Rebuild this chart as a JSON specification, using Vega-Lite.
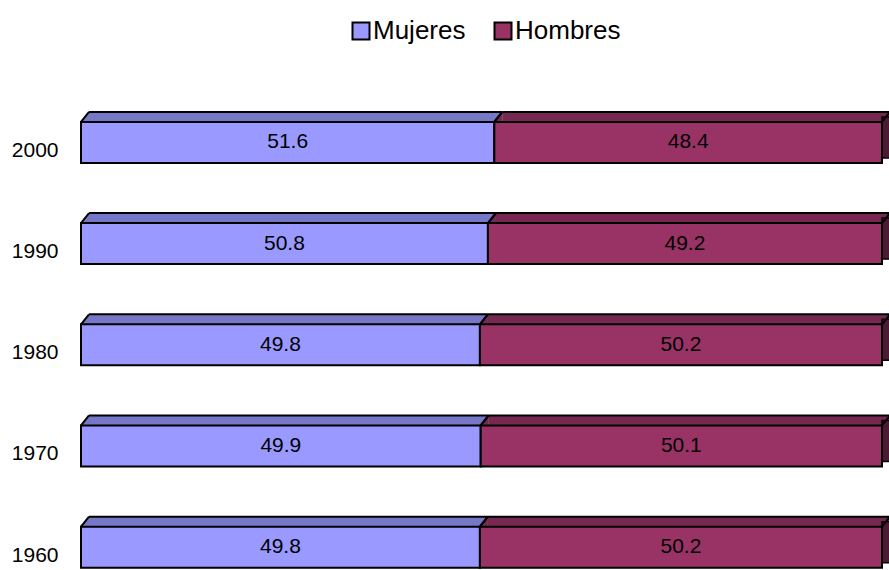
{
  "$schema": "https://vega.github.io/schema/vega-lite/v6.json",
  "width": 808,
  "height": 570,
  "autosize": "none",
  "padding": {"left": 81, "top": 0, "right": 0, "bottom": 0},
  "background": "white",
  "config": {"view": {"stroke": null}, "font": "Liberation Sans"},
  "data": {"values": [
    {"year": 2000, "gender": "Mujeres", "value": 51.6},
    {"year": 2000, "gender": "Hombres", "value": 48.4},
    {"year": 1990, "gender": "Mujeres", "value": 50.8},
    {"year": 1990, "gender": "Hombres", "value": 49.2},
    {"year": 1980, "gender": "Mujeres", "value": 49.8},
    {"year": 1980, "gender": "Hombres", "value": 50.2},
    {"year": 1970, "gender": "Mujeres", "value": 49.9},
    {"year": 1970, "gender": "Hombres", "value": 50.1},
    {"year": 1960, "gender": "Mujeres", "value": 49.8},
    {"year": 1960, "gender": "Hombres", "value": 50.2}
  ]},
  "transform": [
    {"stack": "value", "groupby": ["year"], "sort": [{"field": "gender", "order": "descending"}], "as": ["x0", "x1"]}
  ],
  "encoding": {
    "y": {"field": "year", "type": "quantitative",
      "scale": {"domain": [1959.029, 2014.369], "nice": false, "zero": false},
      "axis": {"values": [1960, 1970, 1980, 1990, 2000], "format": "d", "domain": false, "ticks": false, "grid": false, "title": null, "labelFontSize": 21, "labelColor": "black", "labelPadding": 23, "labelFont": "Liberation Sans"}}
  },
  "layer": [
    {
      "mark": {"type": "bar", "height": 10, "yOffset": -33.5, "xOffset": 8, "x2Offset": 8, "strokeWidth": 0},
      "encoding": {
        "x": {"field": "x0", "type": "quantitative", "scale": {"domain": [0, 100.874], "nice": false, "zero": true}, "axis": null},
        "x2": {"field": "x1"},
        "fill": {"condition": {"test": "datum.gender === 'Mujeres'", "value": "#7777c7"}, "value": "#772850"}
      }
    },
    {
      "mark": {"type": "point", "shape": "M -0.8 1 L 0.8 -1 L 0.8 1 Z", "size": 100, "filled": true, "opacity": 1, "strokeWidth": 0, "xOffset": 4, "yOffset": -33.5},
      "encoding": {
        "x": {"field": "x0", "type": "quantitative"},
        "fill": {"condition": {"test": "datum.gender === 'Mujeres'", "value": "#7777c7"}, "value": "#772850"}
      }
    },
    {
      "transform": [{"filter": "datum.gender === 'Hombres'"}],
      "mark": {"type": "bar", "height": 41, "yOffset": -13, "xOffset": 0, "x2Offset": 8, "fill": "#4d1a33", "stroke": "black", "strokeWidth": 1.5},
      "encoding": {
        "x": {"field": "x1", "type": "quantitative"},
        "x2": {"field": "x1"}
      }
    },
    {
      "mark": {"type": "rule", "color": "black", "strokeWidth": 2, "yOffset": -38.5, "xOffset": 8, "x2Offset": 8},
      "encoding": {
        "x": {"field": "x0", "type": "quantitative"},
        "x2": {"field": "x1"}
      }
    },
    {
      "mark": {"type": "rule", "color": "black", "strokeWidth": 2, "xOffset": 0, "x2Offset": 8, "yOffset": -28.5, "y2Offset": -38.5},
      "encoding": {
        "x": {"field": "x0", "type": "quantitative"},
        "x2": {"field": "x0"},
        "y2": {"field": "year"}
      }
    },
    {
      "mark": {"type": "rule", "color": "black", "strokeWidth": 2, "xOffset": 0, "x2Offset": 8, "yOffset": -28.5, "y2Offset": -38.5},
      "encoding": {
        "x": {"field": "x1", "type": "quantitative"},
        "x2": {"field": "x1"},
        "y2": {"field": "year"}
      }
    },
    {
      "mark": {"type": "bar", "height": 41, "yOffset": -8, "stroke": "black", "strokeWidth": 2, "opacity": 1},
      "encoding": {
        "x": {"field": "x0", "type": "quantitative"},
        "x2": {"field": "x1"},
        "color": {"field": "gender", "type": "nominal",
          "scale": {"domain": ["Mujeres", "Hombres"], "range": ["#9999ff", "#993366"]},
          "legend": {"orient": "none", "legendX": 267, "legendY": 18, "direction": "horizontal", "title": null,
            "labelFontSize": 26, "labelFont": "Liberation Sans", "labelColor": "black",
            "symbolType": "square", "symbolSize": 289, "symbolStrokeWidth": 2, "symbolStrokeColor": "black", "symbolOpacity": 1,
            "labelOffset": -1, "columnPadding": 24, "padding": 0}}
      }
    },
    {
      "mark": {"type": "text", "yOffset": -8, "fontSize": 21, "font": "Liberation Sans", "color": "black", "align": "center", "baseline": "middle"},
      "encoding": {
        "x": {"field": "value", "type": "quantitative", "stack": "zero", "bandPosition": 0.5},
        "detail": {"field": "gender"},
        "order": {"field": "gender", "sort": "descending"},
        "text": {"field": "value", "type": "quantitative", "format": ".1f"}
      }
    }
  ]
}
